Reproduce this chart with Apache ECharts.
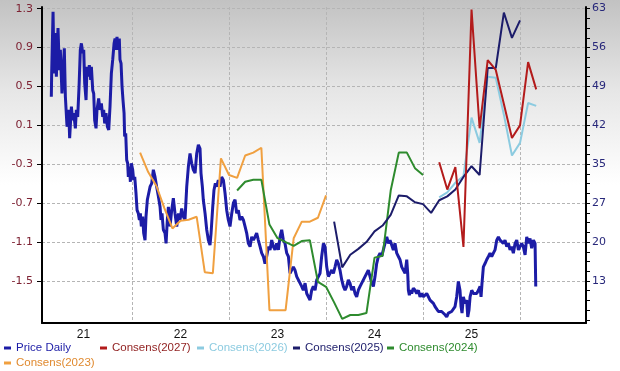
<!DOCTYPE html>
<html>
<head>
<meta charset="utf-8">
<script src="https://cdn.jsdelivr.net/npm/echarts@6/dist/echarts.min.js"></script>
<style>
  html, body { margin: 0; padding: 0; }
  #chart { width: 620px; height: 371px; background: linear-gradient(to bottom, #c2c2c2 0px, #e6e6e6 90px, #ffffff 185px, #ffffff 371px); }
</style>
</head>
<body>
<div id="chart"></div>
<script>
// ---- Tick labels / axis definitions ----
const xLabels = ['21', '22', '23', '24', '25'];
const xLabelYears = [2021.5, 2022.5, 2023.5, 2024.5, 2025.5];
const xGridYears = [2022, 2023, 2024, 2025, 2026];
const leftTicks = [-1.5, -1.1, -0.7, -0.3, 0.1, 0.5, 0.9, 1.3];
const rightTicks = [13.2, 20.34, 27.48, 34.62, 41.76, 48.9, 56.04, 63.18];

// ---- Price Daily (decimal year, price) ----
const priceDaily = [
[2021.168,47.0],[2021.172,51.6],[2021.186,62.6],[2021.196,51.3],[2021.210,58.7],[2021.220,50.7],[2021.237,59.6],[2021.251,51.9],
[2021.261,55.6],[2021.278,47.6],[2021.289,51.3],[2021.302,55.9],[2021.313,47.0],[2021.330,41.5],[2021.347,44.6],[2021.357,39.4],
[2021.375,45.2],[2021.388,42.7],[2021.399,44.0],[2021.416,41.2],[2021.426,44.6],[2021.440,43.3],[2021.454,48.9],[2021.467,55.6],
[2021.478,56.8],[2021.492,55.0],[2021.502,55.6],[2021.512,49.5],[2021.526,46.4],[2021.536,52.5],[2021.546,50.7],[2021.560,52.8],
[2021.574,50.1],[2021.581,52.5],[2021.595,48.2],[2021.605,47.6],[2021.615,42.7],[2021.629,41.2],[2021.639,44.6],[2021.656,46.7],
[2021.670,44.6],[2021.684,45.8],[2021.698,43.3],[2021.708,44.6],[2021.718,42.1],[2021.732,44.0],[2021.746,41.5],[2021.760,40.9],
[2021.773,45.2],[2021.787,51.3],[2021.801,53.8],[2021.815,56.8],[2021.825,57.7],[2021.835,55.6],[2021.845,58.0],[2021.856,55.6],
[2021.869,57.7],[2021.876,53.8],[2021.887,53.1],[2021.897,48.9],[2021.907,46.4],[2021.918,44.0],[2021.924,39.7],[2021.935,40.3],
[2021.945,35.4],[2021.955,34.8],[2021.962,32.3],[2021.973,34.2],[2021.983,31.4],[2021.993,34.8],[2022.007,33.6],[2022.017,31.7],
[2022.028,32.3],[2022.041,29.3],[2022.052,26.2],[2022.065,25.6],[2022.076,24.4],[2022.086,25.6],[2022.096,23.2],[2022.110,25.0],
[2022.120,22.0],[2022.134,20.7],[2022.144,25.0],[2022.158,28.1],[2022.168,28.1],[2022.186,30.5],[2022.203,31.1],[2022.220,33.6],
[2022.237,32.3],[2022.254,30.5],[2022.272,28.7],[2022.289,26.8],[2022.299,24.4],[2022.309,25.6],[2022.323,22.6],[2022.340,22.0],
[2022.351,20.1],[2022.364,24.4],[2022.375,26.8],[2022.392,23.2],[2022.409,26.2],[2022.426,28.4],[2022.443,25.6],[2022.461,23.2],
[2022.478,25.6],[2022.495,24.4],[2022.512,26.5],[2022.529,25.0],[2022.546,24.4],[2022.564,30.5],[2022.581,34.2],[2022.598,36.6],
[2022.615,34.8],[2022.632,33.6],[2022.650,33.0],[2022.667,36.6],[2022.684,38.2],[2022.701,37.5],[2022.711,33.0],[2022.725,30.5],
[2022.735,28.1],[2022.753,25.6],[2022.770,22.6],[2022.787,20.7],[2022.804,19.8],[2022.815,22.0],[2022.832,26.8],[2022.845,29.9],
[2022.859,31.1],[2022.873,30.5],[2022.890,31.7],[2022.907,30.5],[2022.924,32.3],[2022.942,31.7],[2022.959,29.3],[2022.976,26.2],
[2022.993,24.4],[2023.010,23.2],[2023.028,25.6],[2023.045,27.5],[2023.062,28.1],[2023.079,25.6],[2023.096,26.2],[2023.113,24.4],
[2023.131,25.0],[2023.148,24.4],[2023.165,23.2],[2023.182,22.0],[2023.199,20.1],[2023.217,19.5],[2023.234,21.3],[2023.251,20.7],
[2023.268,21.3],[2023.285,22.0],[2023.302,20.7],[2023.320,19.5],[2023.337,18.3],[2023.354,17.7],[2023.371,16.4],[2023.388,17.7],
[2023.406,19.5],[2023.423,18.9],[2023.440,20.7],[2023.457,19.5],[2023.474,18.9],[2023.491,20.1],[2023.509,18.9],[2023.526,21.3],
[2023.543,22.6],[2023.560,20.7],[2023.577,20.1],[2023.595,18.3],[2023.612,17.7],[2023.629,14.6],[2023.646,15.2],[2023.663,15.8],
[2023.680,15.2],[2023.698,14.0],[2023.715,13.4],[2023.732,12.8],[2023.749,12.2],[2023.766,11.5],[2023.784,12.8],[2023.801,10.9],
[2023.818,10.3],[2023.835,9.7],[2023.852,11.5],[2023.869,12.2],[2023.887,11.5],[2023.904,13.4],[2023.921,13.7],[2023.938,14.6],
[2023.955,17.7],[2023.973,20.1],[2023.990,19.5],[2024.007,15.8],[2024.024,14.0],[2024.041,14.6],[2024.059,15.2],[2024.076,14.6],
[2024.093,15.8],[2024.110,17.1],[2024.127,16.4],[2024.144,15.2],[2024.162,13.4],[2024.179,12.2],[2024.196,11.5],[2024.213,12.2],
[2024.230,13.4],[2024.247,12.8],[2024.265,11.5],[2024.282,12.2],[2024.299,10.9],[2024.316,10.3],[2024.333,11.5],[2024.351,12.2],
[2024.368,12.8],[2024.385,13.4],[2024.402,14.0],[2024.419,14.6],[2024.436,15.2],[2024.454,14.0],[2024.471,12.8],[2024.488,12.2],
[2024.505,14.0],[2024.522,16.4],[2024.540,17.7],[2024.557,18.3],[2024.574,17.7],[2024.591,18.9],[2024.608,20.1],[2024.626,21.3],
[2024.643,20.1],[2024.660,20.7],[2024.677,19.8],[2024.694,18.9],[2024.711,20.1],[2024.729,18.3],[2024.746,17.7],[2024.763,17.1],
[2024.780,15.8],[2024.797,15.2],[2024.815,14.6],[2024.832,17.1],[2024.842,14.6],[2024.849,11.5],[2024.859,10.6],[2024.873,11.5],
[2024.883,10.9],[2024.900,11.9],[2024.918,11.5],[2024.935,10.9],[2024.952,11.5],[2024.969,10.3],[2024.986,10.9],[2025.004,10.3],
[2025.021,10.0],[2025.038,10.9],[2025.055,10.3],[2025.072,9.7],[2025.089,9.4],[2025.107,9.1],[2025.124,8.5],[2025.141,8.8],
[2025.158,7.6],[2025.175,7.3],[2025.192,7.6],[2025.210,7.3],[2025.227,7.0],[2025.244,6.6],[2025.261,7.3],[2025.278,7.0],
[2025.295,7.6],[2025.313,7.9],[2025.330,8.5],[2025.347,10.3],[2025.364,13.1],[2025.381,11.5],[2025.392,8.5],[2025.402,7.3],
[2025.416,10.3],[2025.433,9.1],[2025.450,9.7],[2025.461,6.6],[2025.474,7.9],[2025.485,10.3],[2025.502,11.5],[2025.519,10.9],
[2025.536,11.2],[2025.553,10.9],[2025.571,11.5],[2025.588,12.2],[2025.598,10.3],[2025.608,12.8],[2025.622,15.8],[2025.639,16.4],
[2025.656,17.1],[2025.674,17.7],[2025.691,18.3],[2025.708,17.7],[2025.725,18.3],[2025.742,18.9],[2025.760,20.7],[2025.777,21.3],
[2025.794,20.7],[2025.811,21.0],[2025.828,20.1],[2025.845,20.7],[2025.863,19.5],[2025.880,20.1],[2025.897,18.9],[2025.914,19.5],
[2025.931,18.3],[2025.949,20.1],[2025.966,20.7],[2025.983,18.9],[2026.000,19.2],[2026.017,20.1],[2026.034,19.5],[2026.052,18.0],
[2026.069,21.3],[2026.086,20.1],[2026.103,21.0],[2026.120,19.2],[2026.138,20.7],[2026.155,20.1],[2026.162,12.2]
];

// ---- Consensus estimates (monthly values, first month given) ----
const cons2027Start = [2025, 3];
const cons2027 = [-0.28, -0.56, -0.33, -1.15, 1.29, 0.07, 0.77, 0.67, 0.32, -0.03, 0.10, 0.75, 0.47];
const cons2026Start = [2025, 3];
const cons2026 = [-0.64, -0.59, -0.49, -0.42, 0.18, -0.08, 0.60, 0.59, 0.21, -0.21, -0.08, 0.33, 0.30];
const cons2025Start = [2024, 2];
const cons2025 = [-0.89, -1.36, -1.23, -1.17, -1.10, -0.99, -0.93, -0.82, -0.62, -0.63, -0.69, -0.71,
                  -0.80, -0.67, -0.63, -0.56, -0.43, -0.32, -0.41, 0.69, 0.69, 1.26, 1.00, 1.18];
const cons2024Start = [2023, 2];
const cons2024 = [-0.57, -0.48, -0.46, -0.46, -0.92, -1.06, -1.10, -1.14, -1.09, -1.08, -1.51, -1.56,
                  -1.72, -1.89, -1.85, -1.85, -1.83, -1.26, -1.24, -0.57, -0.18, -0.18, -0.34, -0.41];
const cons2023Start = [2022, 2];
const cons2023 = [-0.18, -0.38, -0.52, -0.75, -0.96, -0.88, -0.87, -0.84, -1.41, -1.42, -0.24, -0.41,
                  -0.44, -0.21, -0.18, -0.13, -1.80, -1.80, -1.80, -1.06, -0.89, -0.89, -0.85, -0.62];

function monthly(start, vals) {
  return vals.map((v, i) => [start[0] + (start[1] - 1 + i) / 12, v]);
}

// right axis ticks: majors plus 3 minors between
const rightAll = [];
const rStep = (rightTicks[1] - rightTicks[0]) / 4;
for (let v = rightTicks[0] - 4 * rStep; v <= rightTicks[rightTicks.length - 1] + 0.01; v += rStep) rightAll.push(+v.toFixed(3));

const C = {
  price: '#1c1ca6', c2027: '#b31b1b', c2026: '#8ccbe0', c2025: '#1c1c6a', c2024: '#2e8b2e', c2023: '#f0a040'
};
const axisFont = 'DejaVu Sans';
const legFont = "'Liberation Sans', sans-serif";

function leg(name, color, left, top) {
  return {
    data: [name], left: left, top: top, padding: 0, itemGap: 0,
    icon: 'rect', itemWidth: 7, itemHeight: 3,
    textStyle: { color: color, fontFamily: legFont, fontSize: 11.5 },
    selectedMode: false
  };
}

const chart = echarts.init(document.getElementById('chart'), null, { renderer: 'canvas' });
chart.setOption({
  backgroundColor: 'transparent',
  animation: false,
  grid: { left: 42, right: 34, top: 7, bottom: 48, containLabel: false },
  legend: [
    leg('Price Daily', C.price, 4, 342),
    leg('Consens(2027)', '#8f1d1d', 100, 342),
    leg('Consens(2026)', C.c2026, 197, 342),
    leg('Consens(2025)', C.c2025, 293, 342),
    leg('Consens(2024)', C.c2024, 387, 342),
    leg('Consens(2023)', '#e08a30', 4, 357)
  ],
  xAxis: {
    type: 'value', min: 2021.072, max: 2026.68,
    axisLine: { show: true, onZero: false, lineStyle: { color: '#000', width: 2 } },
    axisTick: { show: false, customValues: xGridYears },
    axisLabel: {
      customValues: xLabelYears, margin: 6,
      color: '#111', fontFamily: legFont, fontSize: 12,
      formatter: v => xLabels[xLabelYears.indexOf(v)]
    },
    splitLine: { show: true, lineStyle: { color: '#b5b5b5', type: [3, 2], width: 1 } }
  },
  yAxis: [
    {
      type: 'value', position: 'left', min: -1.932, max: 1.317,
      axisLine: { show: true, onZero: false, lineStyle: { color: '#000', width: 2 } },
      axisTick: { show: true, customValues: leftTicks, length: 5, lineStyle: { color: '#000' } },
      axisLabel: {
        customValues: leftTicks, margin: 9, color: '#7d2233',
        fontFamily: axisFont, fontSize: 11, formatter: v => v.toFixed(1)
      },
      splitLine: { show: true, lineStyle: { color: '#b5b5b5', type: [3, 2], width: 1 } }
    },
    {
      type: 'value', position: 'right', min: 5.49, max: 63.47,
      axisLine: { show: true, onZero: false, lineStyle: { color: '#000', width: 2 } },
      axisTick: { show: true, customValues: rightAll, length: 4, lineStyle: { color: '#000' } },
      axisLabel: {
        customValues: rightTicks, margin: 6, color: '#27277a',
        fontFamily: axisFont, fontSize: 11, formatter: v => String(Math.round(v))
      },
      splitLine: { show: false }
    }
  ],
  series: [
    { name: 'Price Daily', type: 'line', yAxisIndex: 1, data: priceDaily, showSymbol: false, symbol: 'none',
      lineStyle: { color: C.price, width: 3 }, itemStyle: { color: C.price }, z: 2 },
    { name: 'Consens(2023)', type: 'line', yAxisIndex: 0, data: monthly(cons2023Start, cons2023), showSymbol: false, symbol: 'none',
      lineStyle: { color: C.c2023, width: 2 }, itemStyle: { color: C.c2023 }, z: 3 },
    { name: 'Consens(2024)', type: 'line', yAxisIndex: 0, data: monthly(cons2024Start, cons2024), showSymbol: false, symbol: 'none',
      lineStyle: { color: C.c2024, width: 2 }, itemStyle: { color: C.c2024 }, z: 3 },
    { name: 'Consens(2026)', type: 'line', yAxisIndex: 0, data: monthly(cons2026Start, cons2026), showSymbol: false, symbol: 'none',
      lineStyle: { color: C.c2026, width: 2 }, itemStyle: { color: C.c2026 }, z: 3 },
    { name: 'Consens(2025)', type: 'line', yAxisIndex: 0, data: monthly(cons2025Start, cons2025), showSymbol: false, symbol: 'none',
      lineStyle: { color: C.c2025, width: 2 }, itemStyle: { color: C.c2025 }, z: 3 },
    { name: 'Consens(2027)', type: 'line', yAxisIndex: 0, data: monthly(cons2027Start, cons2027), showSymbol: false, symbol: 'none',
      lineStyle: { color: C.c2027, width: 2 }, itemStyle: { color: C.c2027 }, z: 3 }
  ]
});
</script>
</body>
</html>
